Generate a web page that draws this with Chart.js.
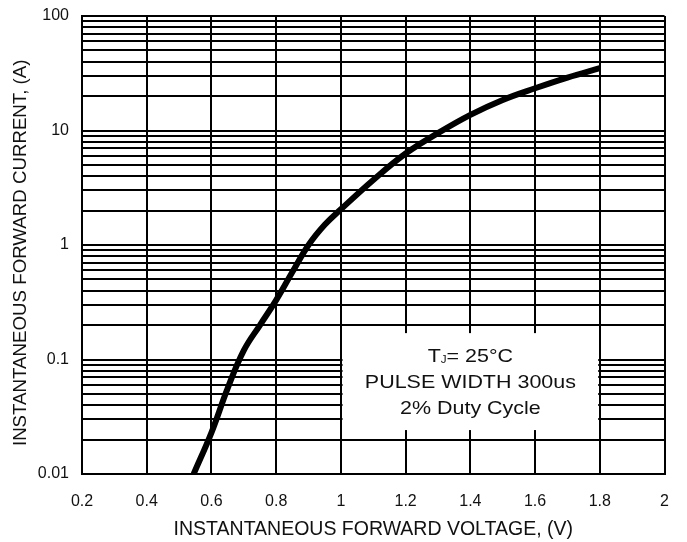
<!DOCTYPE html>
<html>
<head>
<meta charset="utf-8">
<script src="https://cdn.jsdelivr.net/npm/chart.js@4/dist/chart.umd.min.js"></script>
<style>
  body { margin: 0; background: #fff; }
  #wrap { width: 687px; height: 542px; position: relative; }
</style>
</head>
<body>
<div id="wrap"><canvas id="mycanvas"></canvas></div>
<script>
// forward voltage (V) vs instantaneous forward current (A)
var voltage = [0.545, 0.6, 0.65, 0.7, 0.75, 0.8, 0.85, 0.9, 0.95, 1.0, 1.1, 1.2, 1.3, 1.4, 1.5, 1.6, 1.7, 1.8];
var current = [0.01, 0.023, 0.056, 0.12, 0.2, 0.33, 0.58, 1.0, 1.5, 2.05, 3.7, 6.3, 9.5, 13.7, 18.5, 23.4, 29, 35];

var xTicks = [0.2, 0.4, 0.6, 0.8, 1.0, 1.2, 1.4, 1.6, 1.8, 2.0];
var xTickLabels = ['0.2', '0.4', '0.6', '0.8', '1', '1.2', '1.4', '1.6', '1.8', '2'];
var yDecades = [0.01, 0.1, 1, 10, 100];
var yDecadeLabels = ['0.01', '0.1', '1', '10', '100'];
var yMultipliers = [1, 2, 3, 4, 5, 6, 7, 8, 9];

var noteLines = ['= 25°C', 'PULSE WIDTH 300us', '2% Duty Cycle'];

var yTicks = [];
for (var d = 0; d < yDecades.length; d++) {
  for (var m = 0; m < yMultipliers.length; m++) {
    var v = yDecades[d] * yMultipliers[m];
    yTicks.push(parseFloat(v.toPrecision(3)));
    if (d == yDecades.length - 1) break;
  }
}

var points = [];
for (var i in voltage) {
  points.push({x: voltage[i], y: current[i]});
}

var FONT = '"Liberation Sans", Arial, sans-serif';

var notePlugin = {
  id: 'note',
  beforeDatasetsDraw: function(chart) {
    var ctx = chart.ctx;
    var xs = chart.scales.x, ys = chart.scales.y;
    var x0 = xs.getPixelForValue(1.005), x1 = xs.getPixelForValue(1.795);
    var y0 = ys.getPixelForValue(0.17), y1 = ys.getPixelForValue(0.0242);
    ctx.save();
    ctx.fillStyle = '#fff';
    ctx.fillRect(x0, y0, x1 - x0, y1 - y0);

    var cx = xs.getPixelForValue(1.4);
    var cy = (y0 + y1) / 2;
    var gap = 25.7;
    var sx = 1.16;
    ctx.fillStyle = '#111';
    ctx.textBaseline = 'alphabetic';
    ctx.textAlign = 'left';

    // first line: T with subscript J
    var big = '18.5px ' + FONT, small = '10px ' + FONT;
    ctx.font = big;
    var wT = ctx.measureText('T').width;
    var wRest = ctx.measureText(noteLines[0]).width;
    ctx.font = small;
    var wJ = ctx.measureText('J').width;
    var total = (wT + wJ + wRest) * sx;
    var base0 = cy - gap + 6.5;
    ctx.save();
    ctx.translate(cx - total / 2, 0);
    ctx.scale(sx, 1);
    ctx.font = big;
    ctx.fillText('T', 0, base0);
    ctx.font = small;
    ctx.fillText('J', wT, base0 + 1);
    ctx.font = big;
    ctx.fillText(noteLines[0], wT + wJ, base0);
    ctx.restore();

    for (var k = 1; k < noteLines.length; k++) {
      ctx.save();
      ctx.translate(cx, 0);
      ctx.scale(sx, 1);
      ctx.font = big;
      ctx.textAlign = 'center';
      ctx.fillText(noteLines[k], 0, base0 + k * gap);
      ctx.restore();
    }
    ctx.restore();
  }
};

var ctx = document.getElementById('mycanvas');
var chart = new Chart(ctx, {
  type: 'line',
  data: {
    datasets: [{
      data: points,
      borderColor: '#000',
      borderWidth: 6,
      pointRadius: 0,
      fill: false,
      tension: 0.4
    }]
  },
  options: {
    responsive: true,
    maintainAspectRatio: false,
    animation: false,
    layout: { padding: { top: 16, right: 13, left: 0, bottom: 0 } },
    plugins: { legend: { display: false }, tooltip: { enabled: false } },
    scales: {
      x: {
        type: 'linear',
        min: 0.2,
        max: 2,
        afterBuildTicks: function(scale) {
          scale.ticks = xTicks.map(function(v) { return {value: v}; });
        },
        afterFit: function(scale) { scale.height = 68; },
        grid: { color: '#000', lineWidth: 2, drawTicks: false },
        border: { color: '#000', width: 2 },
        ticks: {
          color: '#111',
          padding: 18,
          autoSkip: false,
          maxRotation: 0,
          font: { family: FONT, size: 16 },
          callback: function(value, index) { return xTickLabels[index]; }
        },
        title: {
          display: true,
          text: 'INSTANTANEOUS FORWARD VOLTAGE, (V)',
          color: '#111',
          font: { family: FONT, size: 19.5 },
          padding: { top: 0, bottom: 1 }
        }
      },
      y: {
        type: 'logarithmic',
        min: 0.01,
        max: 100,
        afterBuildTicks: function(scale) {
          scale.ticks = yTicks.map(function(v) { return {value: v}; });
        },
        afterFit: function(scale) { scale.width = 82; },
        grid: { color: '#000', lineWidth: 2, drawTicks: false },
        border: { color: '#000', width: 2 },
        ticks: {
          color: '#111',
          padding: 13,
          autoSkip: false,
          font: { family: FONT, size: 16, lineHeight: 0.2 },
          callback: function(value) {
            for (var j = 0; j < yDecades.length; j++) {
              if (Math.abs(value - yDecades[j]) < yDecades[j] * 1e-6) return yDecadeLabels[j];
            }
            return '';
          }
        },
        title: {
          display: true,
          text: 'INSTANTANEOUS FORWARD CURRENT, (A)   ',
          color: '#111',
          font: { family: FONT, size: 18.7 },
          padding: { top: 10, bottom: 0 }
        }
      }
    }
  },
  plugins: [notePlugin]
});
</script>
</body>
</html>
